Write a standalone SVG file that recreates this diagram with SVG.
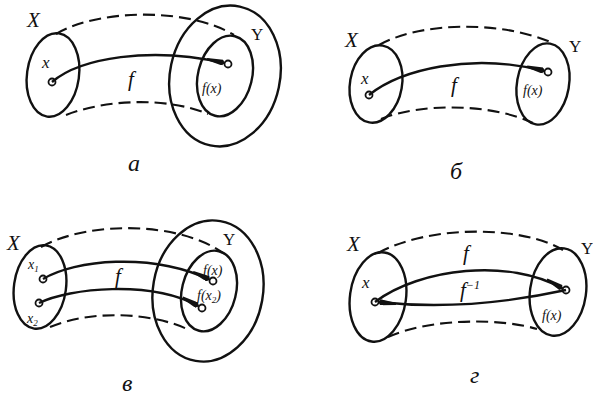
<svg xmlns="http://www.w3.org/2000/svg" width="593" height="398" viewBox="0 0 593 398">
<defs>
<marker id="ah" viewBox="0 0 18 6" refX="18" refY="3" markerWidth="18" markerHeight="6" markerUnits="userSpaceOnUse" orient="auto">
<path d="M0,2 L16,0 L18,3 L16,6 L0,4 Z" fill="#111"/>
</marker>
</defs>
<style>
.sol{fill:none;stroke:#111;stroke-width:2.4}
.dash{fill:none;stroke:#111;stroke-width:2.1;stroke-dasharray:12 6}
.map{fill:none;stroke:#111;stroke-width:2.4;marker-end:url(#ah)}
.pt{fill:#fff;stroke:#111;stroke-width:1.8}
.t{font-family:"Liberation Serif",serif;font-style:italic;fill:#111}
.big{font-size:21px}
.mid{font-size:17px}
.sm{font-size:14px}
.cap{font-size:24px}
</style>
<rect width="593" height="398" fill="#fff"/>

<!-- Panel a -->
<g id="panel-a">
<g id="a-X">
<ellipse class="sol" cx="53" cy="75" rx="26" ry="42" transform="rotate(8 53 75)"/>
<circle class="pt" cx="52" cy="82" r="3.5"/>
<text class="t mid" x="42" y="68">x</text>
<text class="t big" x="27" y="27">X</text>
</g>
<g id="a-Y">
<ellipse class="sol" cx="225" cy="76" rx="55" ry="71" transform="rotate(12 225 76)"/>
<ellipse class="sol" cx="225" cy="76" rx="27" ry="41" transform="rotate(14 225 76)"/>
<circle class="pt" cx="228" cy="64" r="3.5"/>
<text class="t sm" x="202" y="93">f(x)</text>
<text class="t mid" x="251" y="40" style="font-style:normal">Y</text>
</g>
<g id="a-edges">
<path class="dash" d="M56,34 C100,8 190,8 234,35"/>
<path class="dash" d="M66,115 C110,98 170,98 208,114"/>
<path class="map" d="M52,82 C80,58 150,46 224.5,63"/>
<text class="t big" x="128" y="86">f</text>
</g>
<text class="t cap" x="128" y="171">a</text>
</g>

<!-- Panel b -->
<g id="panel-b">
<g id="b-X">
<ellipse class="sol" cx="376" cy="84" rx="26" ry="39" transform="rotate(10 376 84)"/>
<circle class="pt" cx="369" cy="95" r="3.5"/>
<text class="t mid" x="361" y="84">x</text>
<text class="t big" x="345" y="47">X</text>
</g>
<g id="b-Y">
<ellipse class="sol" cx="543" cy="84" rx="26" ry="41" transform="rotate(10 543 84)"/>
<circle class="pt" cx="548" cy="72" r="3.5"/>
<text class="t sm" x="523" y="95">f(x)</text>
<text class="t mid" x="569" y="52" style="font-style:normal">Y</text>
</g>
<g id="b-edges">
<path class="dash" d="M379,45 C420,22 500,20 553,43"/>
<path class="dash" d="M381,119 C420,103 490,103 533,123"/>
<path class="map" d="M369,95 C400,70 470,52 544.5,71"/>
<text class="t big" x="451" y="92">f</text>
</g>
<text class="t cap" x="450" y="179">б</text>
</g>

<!-- Panel v -->
<g id="panel-v">
<g id="v-X">
<ellipse class="sol" cx="40" cy="287" rx="26" ry="42" transform="rotate(8 40 287)"/>
<circle class="pt" cx="43" cy="279" r="3.5"/>
<circle class="pt" cx="39" cy="303" r="3.5"/>
<text class="t sm" x="28" y="269">x<tspan font-size="9" dy="3">1</tspan></text>
<text class="t sm" x="27" y="323">x<tspan font-size="9" dy="3">2</tspan></text>
<text class="t big" x="7" y="250">X</text>
</g>
<g id="v-Y">
<ellipse class="sol" cx="208" cy="291" rx="55" ry="71" transform="rotate(10 208 291)"/>
<ellipse class="sol" cx="209" cy="291" rx="27" ry="41" transform="rotate(14 209 291)"/>
<circle class="pt" cx="213" cy="281" r="3.5"/>
<circle class="pt" cx="202" cy="308" r="3.5"/>
<text class="t sm" x="203" y="275">f(x)</text>
<text class="t sm" x="197" y="300">f(x<tspan font-size="9" dy="3">2</tspan><tspan dy="-3">)</tspan></text>
<text class="t mid" x="223" y="245" style="font-style:normal">Y</text>
</g>
<g id="v-edges">
<path class="dash" d="M41,247 C90,220 180,222 223,253"/>
<path class="dash" d="M50,327 C90,310 150,312 187,329"/>
<path class="map" d="M43,279 C75,260 150,252 209.5,279.5"/>
<path class="map" d="M39,303 C70,288 150,280 198.5,306"/>
<text class="t big" x="115" y="283">f</text>
</g>
<text class="t cap" x="122" y="391">в</text>
</g>

<!-- Panel g -->
<g id="panel-g">
<g id="g-X">
<ellipse class="sol" cx="378" cy="297" rx="28" ry="45" transform="rotate(8 378 297)"/>
<circle class="pt" cx="375" cy="302" r="3.5"/>
<text class="t mid" x="362" y="288">x</text>
<text class="t big" x="347" y="251">X</text>
</g>
<g id="g-Y">
<ellipse class="sol" cx="558" cy="292" rx="28" ry="44" transform="rotate(8 558 292)"/>
<circle class="pt" cx="566" cy="290" r="3.5"/>
<text class="t sm" x="542" y="320">f(x)</text>
<text class="t mid" x="581" y="254" style="font-style:normal">Y</text>
</g>
<g id="g-edges">
<path class="dash" d="M378,253 C430,225 520,225 563,250"/>
<path class="dash" d="M388,337 C430,318 500,318 537,329"/>
<path class="map" d="M375,302 C420,268 510,258 562.5,288.5"/>
<path class="map" d="M566,290 C520,300 450,310 378.5,302"/>
<text class="t big" x="463" y="260">f</text>
<text class="t big" x="460" y="297">f<tspan font-size="12" dy="-8">−1</tspan></text>
</g>
<text class="t cap" x="470" y="383">г</text>
</g>
</svg>
